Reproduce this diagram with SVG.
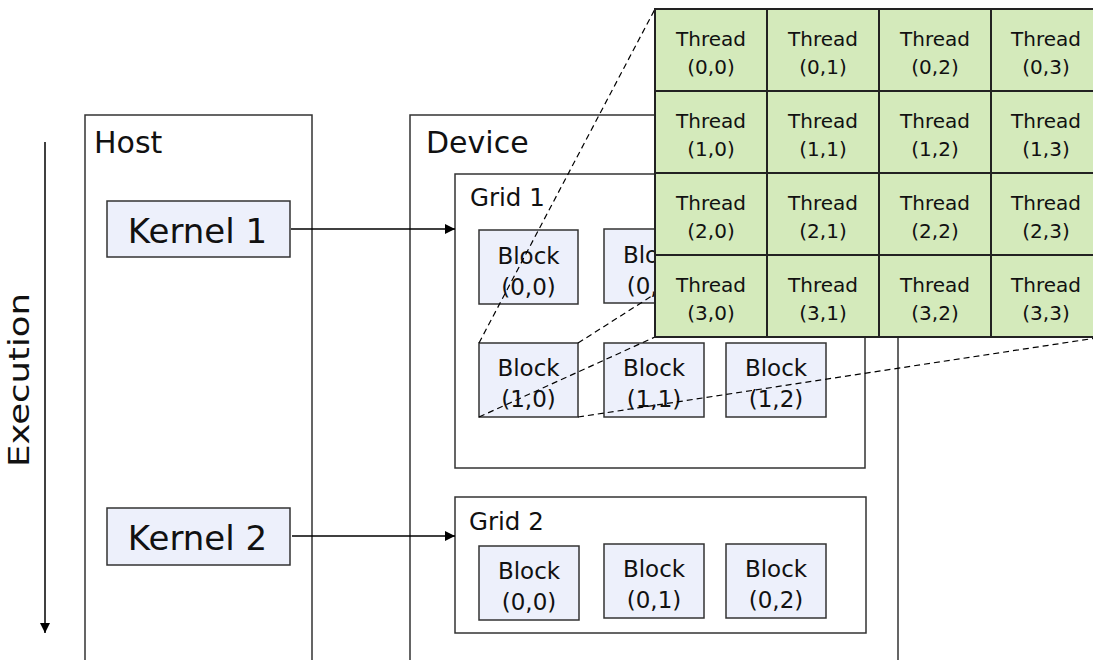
<svg xmlns="http://www.w3.org/2000/svg" width="1093" height="660" viewBox="0 0 1093 660">
  <defs>
    <style>
      text { font-family: "DejaVu Sans", Verdana, sans-serif; fill: #111; }
      .frame { fill: #fff; stroke: #333; stroke-width: 1.5; }
      .open { fill: none; stroke: #333; stroke-width: 1.5; }
      .kernel { fill: #edf0fb; stroke: #333; stroke-width: 1.5; }
      .block { fill: #edf0fb; stroke: #333; stroke-width: 1.5; }
      .cell { fill: #d4eabb; stroke: #222; stroke-width: 2; }
      .title { font-size: 30px; }
      .ktext { font-size: 34px; text-anchor: middle; }
      .gtext { font-size: 24.5px; }
      .btext { font-size: 23px; text-anchor: middle; }
      .ttext { font-size: 20px; text-anchor: middle; }
      .arrow { stroke: #000; stroke-width: 1.5; fill: none; }
      .dash { stroke: #000; stroke-width: 1.2; fill: none; stroke-dasharray: 6 4; }
    </style>
    <marker id="head" viewBox="0 0 10 10" refX="10" refY="5" markerWidth="10" markerHeight="10" markerUnits="userSpaceOnUse" orient="auto">
      <path d="M0,0 L10,5 L0,10 Z" fill="#000"/>
    </marker>
  </defs>

  <!-- time axis -->
  <g id="execution">
    <line class="arrow" x1="45" y1="142" x2="45" y2="633" marker-end="url(#head)"/>
    <text transform="translate(29,467) rotate(-90)" font-size="28" textLength="174" lengthAdjust="spacingAndGlyphs">Execution</text>
  </g>

  <!-- host column -->
  <g id="host">
    <path class="open" d="M85,662 V115 H312 V662"/>
    <text class="title" x="94" y="153">Host</text>
  </g>
  <g id="kernel1">
    <rect class="kernel" x="107" y="201" width="183" height="56"/>
    <text class="ktext" x="197.5" y="243">Kernel 1</text>
  </g>
  <g id="kernel2">
    <rect class="kernel" x="107" y="508" width="183" height="57"/>
    <text class="ktext" x="197.5" y="550">Kernel 2</text>
  </g>

  <!-- device column -->
  <g id="device">
    <path class="open" d="M410,662 V115 H898 V662"/>
    <text class="title" x="426" y="153">Device</text>
  </g>

  <g id="grid1">
    <rect class="frame" x="455" y="174" width="410" height="294"/>
    <text class="gtext" x="470" y="206">Grid 1</text>
  </g>
  <g id="grid1-block-0-0">
    <rect class="block" x="479" y="230" width="99" height="74"/>
    <text class="btext" x="528.5" y="264">Block</text>
    <text class="btext" x="528.5" y="295">(0,0)</text>
  </g>
  <g id="grid1-block-0-1">
    <rect class="block" x="604" y="229" width="100" height="74"/>
    <text class="btext" x="654" y="263">Block</text>
    <text class="btext" x="654" y="294">(0,1)</text>
  </g>
  <g id="grid1-block-1-0">
    <rect class="block" x="479" y="343" width="99" height="74"/>
    <text class="btext" x="528.5" y="376">Block</text>
    <text class="btext" x="528.5" y="407">(1,0)</text>
  </g>
  <g id="grid1-block-1-1">
    <rect class="block" x="604" y="343" width="100" height="74"/>
    <text class="btext" x="654" y="376">Block</text>
    <text class="btext" x="654" y="407">(1,1)</text>
  </g>
  <g id="grid1-block-1-2">
    <rect class="block" x="726" y="343" width="100" height="74"/>
    <text class="btext" x="776" y="376">Block</text>
    <text class="btext" x="776" y="407">(1,2)</text>
  </g>

  <g id="grid2">
    <rect class="frame" x="455" y="497" width="411" height="136"/>
    <text class="gtext" x="469" y="530">Grid 2</text>
  </g>
  <g id="grid2-block-0-0">
    <rect class="block" x="479" y="546" width="100" height="74"/>
    <text class="btext" x="529" y="579">Block</text>
    <text class="btext" x="529" y="610">(0,0)</text>
  </g>
  <g id="grid2-block-0-1">
    <rect class="block" x="604" y="544" width="100" height="74"/>
    <text class="btext" x="654" y="577">Block</text>
    <text class="btext" x="654" y="608">(0,1)</text>
  </g>
  <g id="grid2-block-0-2">
    <rect class="block" x="726" y="544" width="100" height="74"/>
    <text class="btext" x="776" y="577">Block</text>
    <text class="btext" x="776" y="608">(0,2)</text>
  </g>

  <!-- launches and the zoom-in outline of block (1,0) -->
  <g id="connectors">
    <line class="arrow" x1="291" y1="229" x2="455" y2="229" marker-end="url(#head)"/>
    <line class="arrow" x1="292" y1="536" x2="455" y2="536" marker-end="url(#head)"/>
    <line class="dash" x1="479" y1="343" x2="655" y2="9"/>
    <line class="dash" x1="578" y1="343" x2="1103" y2="9"/>
    <line class="dash" x1="479" y1="417" x2="655" y2="337"/>
    <line class="dash" x1="578" y1="417" x2="1103" y2="337"/>
  </g>

  <!-- threads of the enlarged block -->
  <g id="threads">
    <g id="thread-0-0"><rect class="cell" x="655" y="9" width="112" height="82"/><text class="ttext" x="711" y="46">Thread</text><text class="ttext" x="711" y="74">(0,0)</text></g>
    <g id="thread-0-1"><rect class="cell" x="767" y="9" width="112" height="82"/><text class="ttext" x="823" y="46">Thread</text><text class="ttext" x="823" y="74">(0,1)</text></g>
    <g id="thread-0-2"><rect class="cell" x="879" y="9" width="112" height="82"/><text class="ttext" x="935" y="46">Thread</text><text class="ttext" x="935" y="74">(0,2)</text></g>
    <g id="thread-0-3"><rect class="cell" x="991" y="9" width="112" height="82"/><text class="ttext" x="1046" y="46">Thread</text><text class="ttext" x="1046" y="74">(0,3)</text></g>

    <g id="thread-1-0"><rect class="cell" x="655" y="91" width="112" height="82"/><text class="ttext" x="711" y="128">Thread</text><text class="ttext" x="711" y="156">(1,0)</text></g>
    <g id="thread-1-1"><rect class="cell" x="767" y="91" width="112" height="82"/><text class="ttext" x="823" y="128">Thread</text><text class="ttext" x="823" y="156">(1,1)</text></g>
    <g id="thread-1-2"><rect class="cell" x="879" y="91" width="112" height="82"/><text class="ttext" x="935" y="128">Thread</text><text class="ttext" x="935" y="156">(1,2)</text></g>
    <g id="thread-1-3"><rect class="cell" x="991" y="91" width="112" height="82"/><text class="ttext" x="1046" y="128">Thread</text><text class="ttext" x="1046" y="156">(1,3)</text></g>

    <g id="thread-2-0"><rect class="cell" x="655" y="173" width="112" height="82"/><text class="ttext" x="711" y="210">Thread</text><text class="ttext" x="711" y="238">(2,0)</text></g>
    <g id="thread-2-1"><rect class="cell" x="767" y="173" width="112" height="82"/><text class="ttext" x="823" y="210">Thread</text><text class="ttext" x="823" y="238">(2,1)</text></g>
    <g id="thread-2-2"><rect class="cell" x="879" y="173" width="112" height="82"/><text class="ttext" x="935" y="210">Thread</text><text class="ttext" x="935" y="238">(2,2)</text></g>
    <g id="thread-2-3"><rect class="cell" x="991" y="173" width="112" height="82"/><text class="ttext" x="1046" y="210">Thread</text><text class="ttext" x="1046" y="238">(2,3)</text></g>

    <g id="thread-3-0"><rect class="cell" x="655" y="255" width="112" height="82"/><text class="ttext" x="711" y="292">Thread</text><text class="ttext" x="711" y="320">(3,0)</text></g>
    <g id="thread-3-1"><rect class="cell" x="767" y="255" width="112" height="82"/><text class="ttext" x="823" y="292">Thread</text><text class="ttext" x="823" y="320">(3,1)</text></g>
    <g id="thread-3-2"><rect class="cell" x="879" y="255" width="112" height="82"/><text class="ttext" x="935" y="292">Thread</text><text class="ttext" x="935" y="320">(3,2)</text></g>
    <g id="thread-3-3"><rect class="cell" x="991" y="255" width="112" height="82"/><text class="ttext" x="1046" y="292">Thread</text><text class="ttext" x="1046" y="320">(3,3)</text></g>
  </g>
</svg>
